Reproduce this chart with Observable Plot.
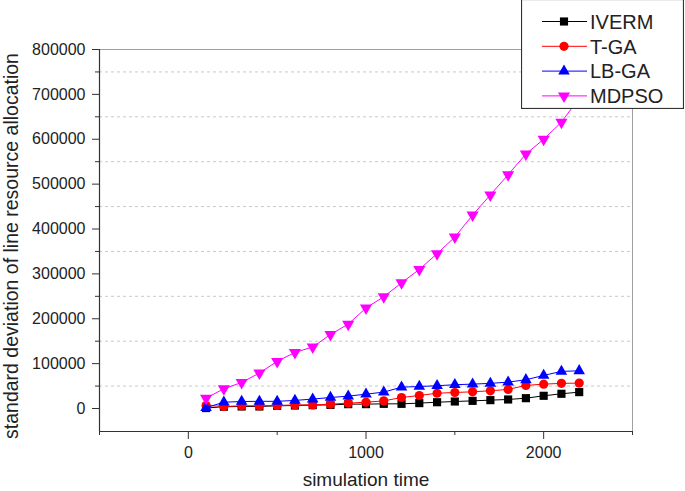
<!DOCTYPE html>
<html>
<head>
<meta charset="utf-8">
<script src="https://cdn.jsdelivr.net/npm/d3@7"></script>
<script src="https://cdn.jsdelivr.net/npm/@observablehq/plot@0.6"></script>
<style>
  body { margin: 0; background: #fff; font-family: "Liberation Sans", Arial, sans-serif; }
  #wrap { position: relative; width: 685px; height: 491px; overflow: hidden; }
  #legend { position: absolute; left: 521px; top: -1px; }
</style>
</head>
<body>
<div id="wrap"></div>
<script>
// ---- data ----
const simTime = [100, 200, 300, 400, 500, 600, 700, 800, 900, 1000, 1100,
                 1200, 1300, 1400, 1500, 1600, 1700, 1800, 1900, 2000, 2100, 2200];
const iverm = [1000, 4000, 4500, 4500, 6000, 6700, 7500, 8000, 9700, 9700, 10400,
               10400, 12000, 14000, 15600, 17000, 18600, 20100, 23000, 28300, 32800, 36500];
const tga   = [6700, 4500, 6000, 6000, 6700, 8000, 8000, 9700, 12000, 14000, 17000,
               24500, 29000, 34000, 35700, 37200, 39500, 42500, 51400, 54300, 56000, 56600];
const lbga  = [2000, 14000, 15600, 16000, 16000, 18000, 21000, 24500, 27500, 32000, 36500,
               47600, 49000, 50700, 53000, 54300, 56000, 58800, 64000, 73700, 82700, 84000];
const mdpso = [23000, 44000, 58000, 79000, 105000, 125000, 137000, 165000, 188000, 224000, 249000,
               280000, 310000, 345000, 382000, 431000, 476000, 521000, 567000, 600000, 638000, 692000];

const seriesNames = ["IVERM", "T-GA", "LB-GA", "MDPSO"];
const seriesValues = [iverm, tga, lbga, mdpso];
const seriesColors = ["#000000", "#ff0000", "#0000ff", "#ff00ff"];
const seriesSymbols = ["square", "circle", "triangle", "triangle"];
const seriesRotate = [0, 0, 0, 180];
const seriesR = [4.6, 4.6, 4.3, 4.5];

const xMajor = [0, 1000, 2000];
const xMinor = [-500, 500, 1500, 2500];
const yMajor = [0, 100000, 200000, 300000, 400000, 500000, 600000, 700000, 800000];
const yMinor = [50000, 150000, 250000, 350000, 450000, 550000, 650000, 750000];
const xDomain = [-500, 2500];
const yDomain = [-51250, 800000];

const xTitle = "simulation time";
const yTitle = "standard deviation of line resource allocation";

// ---- build table ----
const table = [];
seriesNames.forEach((name, i) => {
  simTime.forEach((t, j) => table.push({series: name, t, v: seriesValues[i][j]}));
});

const seriesMarks = seriesNames.flatMap((name, i) => {
  const d = table.filter(r => r.series === name);
  return [
    Plot.line(d, {x: "t", y: "v", stroke: seriesColors[i], strokeWidth: 1}),
    Plot.dot(d, {x: "t", y: "v", fill: seriesColors[i], stroke: "none",
                 symbol: seriesSymbols[i], r: seriesR[i], rotate: seriesRotate[i]})
  ];
});

const chart = Plot.plot({
  width: 685,
  height: 491,
  marginLeft: 99,
  marginRight: 53,
  marginTop: 49,
  marginBottom: 60,
  x: {domain: xDomain},
  y: {domain: yDomain},
  style: {fontFamily: "'Liberation Sans', Arial, sans-serif", fontSize: "16px", color: "#222", background: "white"},
  marks: [
    Plot.ruleY(yMinor, {stroke: "#c8c8c8", strokeDasharray: "3,3", strokeWidth: 1}),
    Plot.frame({stroke: "#a0a0a0"}),
    Plot.ruleX([xDomain[0]], {stroke: "#333", strokeWidth: 1.2}),
    Plot.ruleY([yDomain[0]], {stroke: "#333", strokeWidth: 1.2}),
    Plot.axisY({ticks: yMajor, tickSize: 7, tickPadding: 7, tickFormat: d3.format("d"), label: null, stroke: "#333"}),
    Plot.axisY({ticks: yMinor, tickSize: 4, tickFormat: () => "", label: null, stroke: "#333"}),
    Plot.axisX({ticks: xMajor, tickSize: 8, tickPadding: 7, tickFormat: d3.format("d"), label: null, stroke: "#333"}),
    Plot.axisX({ticks: xMinor, tickSize: 4, tickFormat: () => "", label: null, stroke: "#333"}),
    ...seriesMarks
  ]
});

const svg = d3.select(chart);
svg.append("text")
  .attr("transform", "translate(18,246) rotate(-90)")
  .attr("text-anchor", "middle")
  .attr("font-size", "19.5px")
  .attr("fill", "#222")
  .text(yTitle);
svg.append("text")
  .attr("x", 366)
  .attr("y", 486)
  .attr("text-anchor", "middle")
  .attr("font-size", "19px")
  .attr("fill", "#222")
  .text(xTitle);

const wrap = document.getElementById("wrap");
wrap.appendChild(chart);

// ---- legend ----
const lg = d3.select(wrap).append("svg")
  .attr("id", "legend")
  .attr("width", 163)
  .attr("height", 110)
  .style("font-family", "'Liberation Sans', Arial, sans-serif");
lg.append("rect").attr("x", 0.5).attr("y", 0.5).attr("width", 162).attr("height", 109)
  .attr("fill", "white").attr("stroke", "#333").attr("stroke-width", 1.2);
const symMap = {square: d3.symbolSquare, circle: d3.symbolCircle, triangle: d3.symbolTriangle};
seriesNames.forEach((name, i) => {
  const cy = 22.5 + i * 24.8;
  const g = lg.append("g");
  g.append("line").attr("x1", 21).attr("x2", 66).attr("y1", cy).attr("y2", cy)
    .attr("stroke", seriesColors[i]).attr("stroke-width", 1);
  g.append("path")
    .attr("d", d3.symbol(symMap[seriesSymbols[i]], Math.PI * seriesR[i] * seriesR[i])())
    .attr("transform", `translate(43,${cy}) rotate(${seriesRotate[i]})`)
    .attr("fill", seriesColors[i]);
  g.append("text").attr("x", 69).attr("y", cy).attr("dy", "0.36em")
    .attr("font-size", "20px").attr("fill", "#222").text(name);
});
</script>
</body>
</html>
